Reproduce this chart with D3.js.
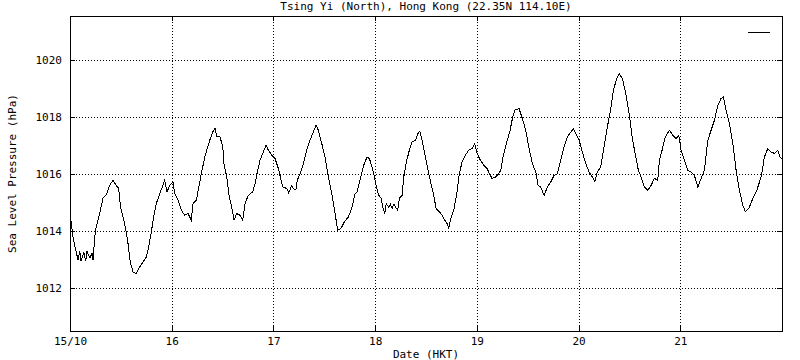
<!DOCTYPE html>
<html lang="en">
<head>
    <meta charset="UTF-8">
    <title>Tsing Yi (North) pressure</title>
    <script src="https://d3js.org/d3.v7.min.js"></script>
    <style>
        body{
            margin: 0;
            background: #fff;
        }
        text{
            font-family: "DejaVu Sans Mono", monospace;
            font-size: 11px;
            fill: #000;
        }
        .grid line{
            stroke: #000;
            stroke-dasharray: 1,2;
            shape-rendering: crispEdges;
        }
    </style>
</head>
<body>
    <script>
        // hours since 15/10 00:00 HKT, and the pressure read at that time (hPa)
        const hours = [0, 0.24, 0.71, 1.18, 1.89, 2.3, 2.6, 3.3, 3.7, 4.01, 4.72, 5.2, 5.43, 5.97, 7.01, 7.79, 8.5, 9.37, 10.15, 10.93,
            11.49, 11.87, 12.51, 13.14, 13.69, 14.23, 14.87, 15.65, 16.45, 17.23, 18.01, 18.57, 19.19, 19.82, 20.37, 21.17, 21.95, 22.35, 22.89, 23.53,
            24.31, 24.71, 25.49, 26.27, 27.07, 27.85, 28.63, 29.03, 29.81, 30.99, 31.79, 32.97, 33.68, 34.22, 34.62, 35.4, 36.04, 36.34, 36.98, 37.59,
            38.16, 38.7, 39.33, 40.12, 40.75, 41.3, 42.08, 43.12, 43.66, 44.2, 44.84, 45.62, 46.25, 46.8, 47.6, 48.38, 49.16, 49.72, 50.2, 51.14,
            51.6, 51.92, 52.3, 52.7, 53.3, 53.64, 54.28, 55.06, 55.86, 56.64, 57.42, 58.05, 58.6, 59.4, 60.18, 60.96, 61.76, 62.54, 63.17, 63.95,
            64.73, 65.68, 66.48, 67.26, 67.73, 68.51, 69.31, 70.09, 70.63, 71.27, 71.9, 72.21, 72.85, 73.46, 73.79, 74.27, 74.6, 75.21, 75.6, 75.99,
            76.4, 76.77, 77.33, 77.71, 78.35, 78.75, 79.36, 80.07, 80.71, 81.49, 82.12, 82.52, 82.9, 83.47, 84.01, 84.65, 85.26, 85.83, 86.37, 87.15,
            87.79, 88.42, 88.97, 89.37, 89.84, 90.55, 91.33, 91.87, 92.51, 93.29, 94.09, 94.87, 95.5, 96.05, 96.83, 97.63, 98.41, 98.96, 99.59, 100.37,
            100.84, 101.64, 102.26, 103.06, 103.84, 104.38, 104.95, 105.96, 106.74, 107.54, 108.32, 109.1, 109.9, 110.44, 111.08, 111.86, 112.64, 113.44, 114.22, 115,
            115.8, 116.58, 117.36, 118.16, 118.77, 119.58, 120.12, 120.9, 121.7, 122.48, 123.26, 123.83, 124.44, 125.24, 126.02, 126.8, 127.6, 128.21, 129.01, 129.56,
            130.34, 131.14, 131.92, 132.7, 133.5, 134.11, 134.75, 135.53, 136.33, 137.11, 137.89, 138.69, 139.07, 139.7, 140.48, 141.43, 142.23, 143.01, 143.65, 144.19,
            144.97, 145.77, 146.55, 147.33, 148.13, 148.91, 149.69, 150.49, 151.27, 152.05, 152.85, 153.63, 154.17, 154.81, 155.59, 156.39, 157.17, 157.95, 158.75, 159.37,
            160.17, 161.12, 162.06, 163.07, 163.85, 164.65, 165.43, 166.21, 167.01, 167.55, 168]

        const pressure = [1014.6, 1014.35, 1013.8, 1013.45, 1013.0, 1013.3, 1012.95, 1013.25, 1012.95, 1013.3, 1013.05, 1013.25, 1013.0, 1014.0, 1014.63, 1015.16, 1015.26, 1015.61, 1015.79, 1015.6,
            1015.5, 1014.9, 1014.5, 1014.09, 1013.57, 1012.92, 1012.57, 1012.51, 1012.75, 1012.92, 1013.1, 1013.45, 1013.98, 1014.56, 1014.97, 1015.32, 1015.61, 1015.79, 1015.38, 1015.6,
            1015.73, 1015.32, 1015.09, 1014.74, 1014.56, 1014.62, 1014.39, 1014.98, 1015.09, 1016.02, 1016.6, 1017.19, 1017.48, 1017.6, 1017.31, 1017.31, 1016.96, 1016.37, 1015.9, 1015.2,
            1014.85, 1014.39, 1014.62, 1014.56, 1014.39, 1014.97, 1015.26, 1015.38, 1015.67, 1016.08, 1016.49, 1016.78, 1017.02, 1016.84, 1016.67, 1016.55, 1016.2, 1015.85, 1015.55, 1015.5,
            1015.35, 1015.44, 1015.6, 1015.5, 1015.45, 1015.79, 1016.02, 1016.37, 1016.84, 1017.19, 1017.48, 1017.72, 1017.54, 1017.08, 1016.6, 1015.9, 1015.32, 1014.62, 1014.04, 1014.1,
            1014.33, 1014.5, 1014.8, 1015.32, 1015.38, 1015.85, 1016.32, 1016.6, 1016.55, 1016.26, 1015.85, 1015.61, 1015.26, 1015.15, 1014.85, 1014.62, 1014.97, 1014.85, 1014.95, 1014.8,
            1014.95, 1014.85, 1014.74, 1015.15, 1015.26, 1015.9, 1016.43, 1016.84, 1017.13, 1017.19, 1017.43, 1017.5, 1017.31, 1016.9, 1016.49, 1016.02, 1015.61, 1015.26, 1014.8, 1014.68,
            1014.56, 1014.39, 1014.27, 1014.12, 1014.44, 1014.74, 1015.38, 1016.02, 1016.43, 1016.67, 1016.84, 1016.9, 1017.08, 1016.73, 1016.49, 1016.32, 1016.2, 1016.02, 1015.85, 1015.9,
            1015.96, 1016.14, 1016.67, 1017.13, 1017.54, 1017.95, 1018.25, 1018.3, 1017.95, 1017.54, 1016.9, 1016.37, 1016.08, 1015.61, 1015.55, 1015.26, 1015.55, 1015.73, 1015.96, 1016.02,
            1016.49, 1016.96, 1017.31, 1017.48, 1017.6, 1017.37, 1017.19, 1016.78, 1016.37, 1016.08, 1015.9, 1015.73, 1016.08, 1016.26, 1016.96, 1017.66, 1018.3, 1018.95, 1019.36, 1019.53,
            1019.36, 1018.83, 1018.13, 1017.25, 1016.6, 1016.14, 1015.9, 1015.55, 1015.44, 1015.61, 1015.85, 1015.79, 1016.49, 1016.84, 1017.31, 1017.54, 1017.37, 1017.25, 1017.37, 1016.84,
            1016.49, 1016.14, 1016.08, 1015.96, 1015.55, 1015.85, 1016.14, 1017.19, 1017.54, 1017.89, 1018.42, 1018.66, 1018.71, 1018.25, 1017.78, 1017.08, 1016.14, 1015.44, 1014.91, 1014.68,
            1014.8, 1015.15, 1015.44, 1015.9, 1016.6, 1016.9, 1016.78, 1016.73, 1016.84, 1016.6, 1016.55]

        const yTicks = [1012, 1014, 1016, 1018, 1020]
        const dayLabels = ["15/10", "16", "17", "18", "19", "20", "21"]
        const title = "Tsing Yi (North), Hong Kong (22.35N 114.10E)"
        const xTitle = "Date (HKT)"
        const yTitle = "Sea Level Pressure (hPa)"

        const svgSize = {width: 800, height: 360}
        const plot = {left: 70, right: 782, top: 16, bottom: 331}

        const start = Date.UTC(2023, 9, 15)
        const data = hours.map((h, i) => ({date: new Date(start + h * 3600e3), value: pressure[i]}))
        const days = dayLabels.map((d, i) => new Date(start + i * 24 * 3600e3))

        const svg = d3.select("body").append("svg")
            .attr("width", svgSize.width)
            .attr("height", svgSize.height)

        const xScale = d3.scaleUtc()
            .domain([new Date(start), new Date(start + 7 * 24 * 3600e3)])
            .range([plot.left, plot.right])
        const yScale = d3.scaleLinear()
            .domain([1010.5, 1021.55])
            .range([plot.bottom, plot.top])

        // dotted grid
        const grid = svg.append("g").attr("class", "grid")
        grid.selectAll(".gx").data(days.slice(1)).join("line")
            .attr("x1", d => Math.round(xScale(d)) + 0.5).attr("x2", d => Math.round(xScale(d)) + 0.5)
            .attr("y1", plot.top).attr("y2", plot.bottom)
        grid.selectAll(".gy").data(yTicks).join("line")
            .attr("y1", d => Math.round(yScale(d)) + 0.5).attr("y2", d => Math.round(yScale(d)) + 0.5)
            .attr("x1", plot.left).attr("x2", plot.right)

        // axes with inward ticks (gnuplot style)
        const fmt = (d, i) => dayLabels[i]
        const axisStyle = g => {
            g.select(".domain").remove()
            g.selectAll("line").attr("stroke", "#000").attr("shape-rendering", "crispEdges")
            g.selectAll("text").attr("fill", "#000").style("font-family", null).style("font-size", null)
            g.attr("font-family", null).attr("font-size", null)
        }
        svg.append("g").attr("transform", `translate(0,${plot.bottom})`)
            .call(d3.axisBottom(xScale).tickValues(days).tickFormat(fmt).tickSize(-5).tickPadding(6))
            .call(axisStyle)
        svg.append("g").attr("transform", `translate(0,${plot.top})`)
            .call(d3.axisTop(xScale).tickValues(days).tickFormat("").tickSize(-5))
            .call(axisStyle)
        svg.append("g").attr("transform", `translate(${plot.left},0)`)
            .call(d3.axisLeft(yScale).tickValues(yTicks).tickFormat(d3.format("d")).tickSize(-5).tickPadding(8))
            .call(axisStyle)
        svg.append("g").attr("transform", `translate(${plot.right},0)`)
            .call(d3.axisRight(yScale).tickValues(yTicks).tickFormat("").tickSize(-5))
            .call(axisStyle)

        // border
        svg.append("rect")
            .attr("x", plot.left + 0.5).attr("y", plot.top + 0.5)
            .attr("width", plot.right - plot.left).attr("height", plot.bottom - plot.top)
            .attr("fill", "none").attr("stroke", "#000")
            .attr("shape-rendering", "crispEdges")

        // pressure trace, aliased like the original bitmap plot
        const line = d3.line().x(d => xScale(d.date)).y(d => yScale(d.value))
        svg.append("path")
            .datum(data)
            .attr("d", line)
            .attr("fill", "none")
            .attr("stroke", "#000")
            .attr("stroke-width", 1)
            .attr("shape-rendering", "crispEdges")

        // legend sample
        svg.append("line")
            .attr("x1", 748).attr("x2", 770).attr("y1", 32.5).attr("y2", 32.5)
            .attr("stroke", "#000").attr("shape-rendering", "crispEdges")

        // titles
        const midX = (plot.left + plot.right) / 2
        svg.append("text").attr("x", midX).attr("y", 10).attr("text-anchor", "middle").text(title)
        svg.append("text").attr("x", midX).attr("y", 358).attr("text-anchor", "middle").text(xTitle)
        svg.append("text")
            .attr("transform", `translate(16,${(plot.top + plot.bottom) / 2}) rotate(-90)`)
            .attr("text-anchor", "middle")
            .text(yTitle)
    </script>
</body>
</html>
